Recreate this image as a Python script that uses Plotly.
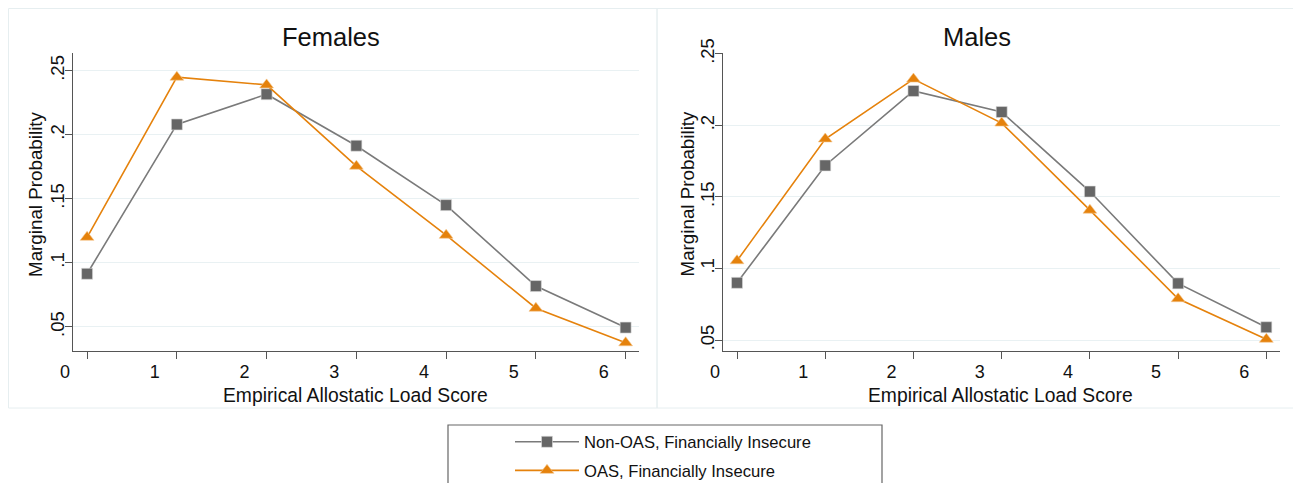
import plotly.graph_objects as go

# The page body has an 8px margin, so the figure is drawn 8px in from the
# top-left corner; coordinates below are given in window pixels.
OFF = 8
W, H = 1301 - OFF, 483 - OFF

scores = [0, 1, 2, 3, 4, 5, 6]
x_tick_labels = ["0", "1", "2", "3", "4", "5", "6"]
y_tick_vals = [0.05, 0.10, 0.15, 0.20, 0.25]
y_tick_labels = [".05", ".1", ".15", ".2", ".25"]

females_non_oas = [0.0914, 0.208, 0.2316, 0.1914, 0.145, 0.0818, 0.0494]
females_oas = [0.1199, 0.2449, 0.2389, 0.1754, 0.1215, 0.0645, 0.0375]
males_non_oas = [0.0901, 0.172, 0.224, 0.2093, 0.1538, 0.0897, 0.0591]
males_oas = [0.1055, 0.1905, 0.2323, 0.2016, 0.1408, 0.079, 0.0507]

series_names = ["Non-OAS, Financially Insecure", "OAS, Financially Insecure"]
panel_titles = ["Females", "Males"]
x_title = "Empirical Allostatic Load Score"
y_title = "Marginal Probability"

GRAY_LINE = "#7a7a7a"
GRAY_MARK = "#666666"
ORANGE = "#e5820c"
FONT = "Liberation Sans, Arial, Helvetica, sans-serif"
TXT = "#111111"


def px(x):
    return (x - OFF) / W


def py(y):
    return 1 - (y - OFF) / H


fig = go.Figure()

panels = [
    ("x", "y", females_non_oas, females_oas, True),
    ("x2", "y2", males_non_oas, males_oas, False),
]
for xa, ya, non_oas, oas, show in panels:
    fig.add_trace(go.Scatter(
        x=scores, y=non_oas, xaxis=xa, yaxis=ya, mode="lines+markers",
        name=series_names[0], legendgroup="g1", showlegend=show,
        line=dict(color=GRAY_LINE, width=1.6),
        marker=dict(symbol="square", size=11, color=GRAY_MARK,
                    line=dict(color="#dddddd", width=0.6)),
    ))
    fig.add_trace(go.Scatter(
        x=scores, y=oas, xaxis=xa, yaxis=ya, mode="lines+markers",
        name=series_names[1], legendgroup="g2", showlegend=show,
        line=dict(color=ORANGE, width=1.6),
        marker=dict(symbol="triangle-up", size=12, color=ORANGE,
                    line=dict(color="#f5c890", width=0.6)),
    ))

common_x = dict(
    tickmode="array", tickvals=scores, ticktext=x_tick_labels,
    ticks="outside", ticklen=7, tickcolor="#555555", tickwidth=1,
    ticklabelshift=-22, ticklabelstandoff=-3,
    showline=True, linecolor="#555555", linewidth=1.3,
    showgrid=False, zeroline=False, automargin=False,
    tickfont=dict(size=18, color=TXT, family=FONT),
)
common_y = dict(
    tickmode="array", tickvals=y_tick_vals, ticktext=y_tick_labels,
    tickangle=-90, ticklabelstandoff=-7,
    ticks="outside", ticklen=7, tickcolor="#555555", tickwidth=1,
    showline=True, linecolor="#555555", linewidth=1.3,
    showgrid=True, gridcolor="#e9f1f3", gridwidth=1.2, zeroline=False,
    automargin=False,
    tickfont=dict(size=18.5, color=TXT, family=FONT),
)

annotations = []
for cx, ttl in [(331, panel_titles[0]), (977, panel_titles[1])]:
    annotations.append(dict(
        text=ttl, x=px(cx), y=py(37), xref="paper", yref="paper",
        xanchor="center", yanchor="middle", showarrow=False,
        font=dict(size=25.5, color=TXT, family=FONT)))
for cx in [355, 1001]:
    annotations.append(dict(
        text=x_title, x=px(cx), y=py(395), xref="paper", yref="paper",
        xanchor="center", yanchor="middle", showarrow=False,
        font=dict(size=19.3, color=TXT, family=FONT)))
for cx in [35, 686.5]:
    annotations.append(dict(
        text=y_title, x=px(cx), y=py(194), xref="paper", yref="paper",
        xanchor="center", yanchor="middle", textangle=-90, showarrow=False,
        font=dict(size=18.8, color=TXT, family=FONT)))

fig.update_layout(
    width=W, height=H,
    margin=dict(l=0, r=0, t=0, b=0, autoexpand=False),
    paper_bgcolor="white", plot_bgcolor="white",
    font=dict(family=FONT, color=TXT),
    xaxis=dict(domain=[px(73), px(639)], range=[-0.157, 6.149], anchor="y", **common_x),
    yaxis=dict(domain=[py(351), py(53)], range=[0.0311, 0.2638], anchor="x", **common_y),
    xaxis2=dict(domain=[px(723), px(1280)], range=[-0.159, 6.155], anchor="y2", **common_x),
    yaxis2=dict(domain=[py(351), py(53.3)], range=[0.0425, 0.2503], anchor="x2", **common_y),
    legend=dict(
        x=px(510), y=py(456.5), xanchor="left", yanchor="middle",
        orientation="v", bgcolor="rgba(0,0,0,0)", borderwidth=0,
        font=dict(size=16.6, color=TXT, family=FONT),
        tracegroupgap=4, itemwidth=64,
    ),
    showlegend=True,
    shapes=[
        dict(type="rect", xref="paper", yref="paper",
             x0=px(8.5), x1=px(657), y0=py(408), y1=py(8.5),
             line=dict(color="#e6eef0", width=1), layer="below"),
        dict(type="rect", xref="paper", yref="paper",
             x0=px(657), x1=px(1297), y0=py(408), y1=py(8.5),
             line=dict(color="#e6eef0", width=1), layer="below"),
        dict(type="rect", xref="paper", yref="paper",
             x0=px(448), x1=px(882), y0=py(495), y1=py(425),
             line=dict(color="#666666", width=1.2)),
    ],
    annotations=annotations,
)

fig.write_html("out.html")
